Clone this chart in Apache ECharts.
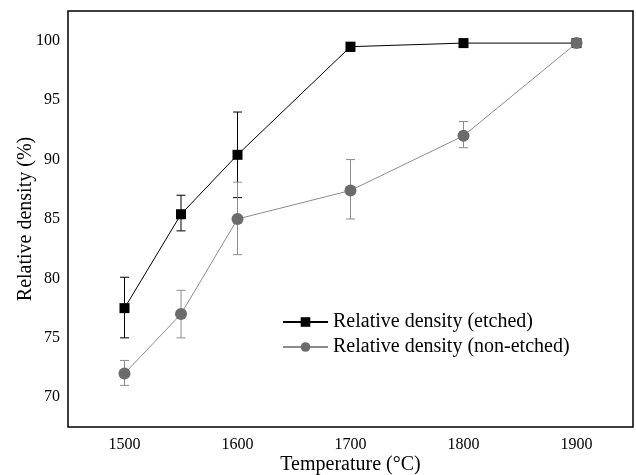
<!DOCTYPE html>
<html>
<head>
<meta charset="utf-8">
<script src="https://cdn.jsdelivr.net/npm/echarts@6/dist/echarts.min.js"></script>
<style>
  html, body { margin: 0; padding: 0; background: #fff; }
  #chart { width: 636px; height: 475px; }
</style>
</head>
<body>
<div id="chart"></div>
<script>
// sintering temperature (°C)
var temps = [1500, 1550, 1600, 1700, 1800, 1900]

// relative density (%) and error bar ends
var etched = [77.5, 85.4, 90.4, 99.5, 99.8, 99.8]
var etchedLow = [75.0, 84.0, 86.8, 99.1, 99.8, 99.8]
var etchedHigh = [80.1, 87.0, 94.0, 99.8, 99.8, 99.8]

var nonEtched = [72.0, 77.0, 85.0, 87.4, 92.0, 99.8]
var nonEtchedLow = [71.0, 75.0, 82.0, 85.0, 91.0, 99.8]
var nonEtchedHigh = [73.1, 79.0, 88.1, 90.0, 93.2, 99.8]

var serif = '"Liberation Serif", "DejaVu Serif", serif'

function pairs(ys) {
  return temps.map(function (t, i) { return [t, ys[i]] })
}

function errorBars(name, low, high, color) {
  return {
    name: name,
    type: 'custom',
    z: 1,
    silent: true,
    renderItem: function (params, api) {
      var lo = api.coord([api.value(0), api.value(1)])
      var hi = api.coord([api.value(0), api.value(2)])
      var w = 4.5
      var style = { stroke: color, lineWidth: 1 }
      return {
        type: 'group',
        children: [
          { type: 'line', shape: { x1: lo[0], y1: lo[1], x2: hi[0], y2: hi[1] }, style: style },
          { type: 'line', shape: { x1: lo[0] - w, y1: lo[1], x2: lo[0] + w, y2: lo[1] }, style: style },
          { type: 'line', shape: { x1: hi[0] - w, y1: hi[1], x2: hi[0] + w, y2: hi[1] }, style: style }
        ]
      }
    },
    data: temps.map(function (t, i) { return [t, low[i], high[i]] })
  }
}

var chart = echarts.init(document.getElementById('chart'))
chart.setOption({
  animation: false,
  textStyle: { fontFamily: serif },
  grid: {
    left: 68, right: 3, top: 11, bottom: 48,
    outerBoundsMode: 'none',
    show: true, borderColor: '#000', borderWidth: 1.5
  },
  legend: {
    orient: 'vertical',
    left: 282,
    top: 312,
    padding: 0,
    itemWidth: 45,
    itemHeight: 12,
    itemGap: 5,
    textStyle: { fontFamily: serif, fontSize: 20, color: '#000', lineHeight: 20 },
    data: ['Relative density (etched)', 'Relative density (non-etched)']
  },
  xAxis: {
    type: 'value',
    min: 1450,
    max: 1950,
    interval: 50,
    name: 'Temperature (°C)',
    nameLocation: 'middle',
    nameGap: 28,
    nameMoveOverlap: false,
    nameTextStyle: { fontFamily: serif, fontSize: 20, color: '#000' },
    axisLine: { show: false },
    axisTick: { show: false },
    splitLine: { show: false },
    axisLabel: {
      fontFamily: serif, fontSize: 16, color: '#000', margin: 10,
      formatter: function (v) { return v % 100 === 0 ? String(v) : '' }
    }
  },
  yAxis: {
    type: 'value',
    min: 67.5,
    max: 102.5,
    interval: 2.5,
    name: 'Relative density (%)',
    nameLocation: 'middle',
    nameGap: 32,
    nameMoveOverlap: false,
    nameTextStyle: { fontFamily: serif, fontSize: 20, color: '#000' },
    axisLine: { show: false },
    axisTick: { show: false },
    splitLine: { show: false },
    axisLabel: {
      fontFamily: serif, fontSize: 16, color: '#000', margin: 8,
      formatter: function (v) { return v % 5 === 0 ? String(v) : '' }
    }
  },
  series: [
    errorBars('etchedErr', etchedLow, etchedHigh, '#000'),
    errorBars('nonEtchedErr', nonEtchedLow, nonEtchedHigh, '#8c8c8c'),
    {
      name: 'Relative density (etched)',
      type: 'line',
      z: 2,
      symbol: 'rect',
      symbolSize: 10,
      itemStyle: { color: '#000' },
      lineStyle: { color: '#000', width: 1 },
      data: pairs(etched)
    },
    {
      name: 'Relative density (non-etched)',
      type: 'line',
      z: 3,
      symbol: 'circle',
      symbolSize: 12,
      itemStyle: { color: '#6b6b6b' },
      lineStyle: { color: '#8c8c8c', width: 1 },
      data: pairs(nonEtched)
    }
  ]
})
</script>
</body>
</html>
